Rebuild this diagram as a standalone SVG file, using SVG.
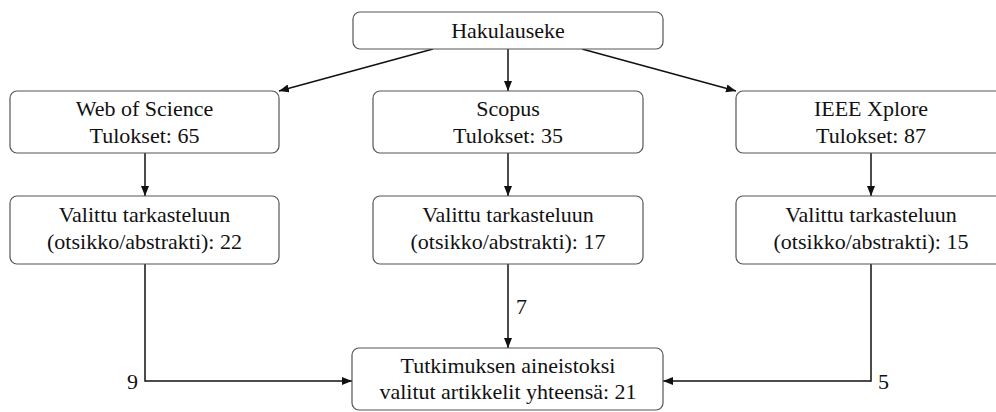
<svg xmlns="http://www.w3.org/2000/svg" width="996" height="412" viewBox="0 0 996 412">
<style>
.box{fill:#fff;stroke:#555;stroke-width:1.2}
.t{font-family:'Liberation Serif','Times New Roman',serif;font-size:22px;fill:#111;text-anchor:middle}
.lbl{font-family:'Liberation Serif','Times New Roman',serif;font-size:22px;fill:#111}
.e{fill:none;stroke:#111;stroke-width:1.5}
</style>
<defs>
<marker id="ah" viewBox="0 0 10 8" refX="10" refY="4" markerWidth="10" markerHeight="8" markerUnits="userSpaceOnUse" orient="auto">
<path d="M0,0 L10,4 L0,8 Z" fill="#111"/>
</marker>
</defs>
<g id="connectors">
<path class="e" d="M433,49 L279,91" marker-end="url(#ah)"/>
<path class="e" d="M508,49 L508,91" marker-end="url(#ah)"/>
<path class="e" d="M582,49 L736,91" marker-end="url(#ah)"/>
<path class="e" d="M145,153 L145,196" marker-end="url(#ah)"/>
<path class="e" d="M508,153 L508,196" marker-end="url(#ah)"/>
<path class="e" d="M871,153 L871,196" marker-end="url(#ah)"/>
<path class="e" d="M145,264 L145,381 L352,381" marker-end="url(#ah)"/>
<path class="e" d="M508,264 L508,348" marker-end="url(#ah)"/>
<path class="e" d="M871,264 L871,381 L663,381" marker-end="url(#ah)"/>
<text class="lbl" x="127" y="389">9</text>
<text class="lbl" x="516" y="314">7</text>
<text class="lbl" x="878" y="389">5</text>
</g>
<g id="hakulauseke">
<rect class="box" x="353" y="12" width="310" height="37" rx="7"/>
<text class="t" x="508" y="38">Hakulauseke</text>
</g>
<g id="wos">
<rect class="box" x="10" y="91" width="269" height="62" rx="7"/>
<text class="t" x="144.5" y="116">Web of Science</text>
<text class="t" x="144.5" y="143">Tulokset: 65</text>
</g>
<g id="scopus">
<rect class="box" x="373" y="91" width="270" height="62" rx="7"/>
<text class="t" x="508" y="116">Scopus</text>
<text class="t" x="508" y="143">Tulokset: 35</text>
</g>
<g id="ieee">
<rect class="box" x="736" y="91" width="270" height="62" rx="7"/>
<text class="t" x="871" y="116">IEEE Xplore</text>
<text class="t" x="871" y="143">Tulokset: 87</text>
</g>
<g id="wos-sel">
<rect class="box" x="10" y="196" width="269" height="68" rx="7"/>
<text class="t" x="144.5" y="222">Valittu tarkasteluun</text>
<text class="t" x="144.5" y="249">(otsikko/abstrakti): 22</text>
</g>
<g id="scopus-sel">
<rect class="box" x="373" y="196" width="270" height="68" rx="7"/>
<text class="t" x="508" y="222">Valittu tarkasteluun</text>
<text class="t" x="508" y="249">(otsikko/abstrakti): 17</text>
</g>
<g id="ieee-sel">
<rect class="box" x="736" y="196" width="270" height="68" rx="7"/>
<text class="t" x="871" y="222">Valittu tarkasteluun</text>
<text class="t" x="871" y="249">(otsikko/abstrakti): 15</text>
</g>
<g id="final">
<rect class="box" x="352" y="348" width="311" height="62" rx="7"/>
<text class="t" x="508" y="373">Tutkimuksen aineistoksi</text>
<text class="t" x="508" y="399">valitut artikkelit yhteensä: 21</text>
</g>
</svg>
